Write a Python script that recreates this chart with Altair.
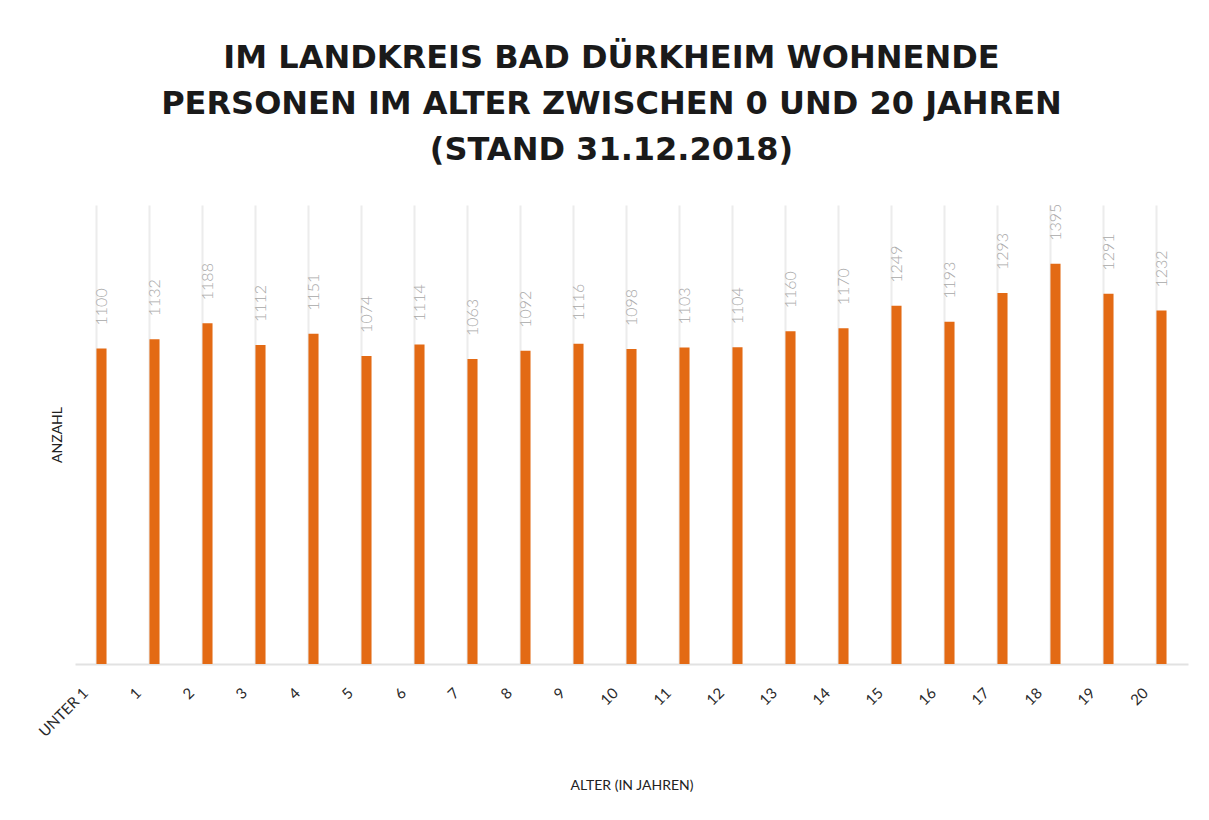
import altair as alt
import pandas as pd

ages = ["UNTER 1"] + [str(i) for i in range(1, 21)]
counts = [1100, 1132, 1188, 1112, 1151, 1074, 1114, 1063, 1092, 1116, 1098,
          1103, 1104, 1160, 1170, 1249, 1193, 1293, 1395, 1291, 1232]
title_lines = ["IM LANDKREIS BAD DÜRKHEIM WOHNENDE",
               "PERSONEN IM ALTER ZWISCHEN 0 UND 20 JAHREN",
               "(STAND 31.12.2018)"]

df = pd.DataFrame({"alter": ages, "anzahl": counts})

x = alt.X("alter:N", sort=ages, scale=alt.Scale(paddingInner=0.81, paddingOuter=0.405),
          axis=alt.Axis(title="ALTER (IN JAHREN)", labelAngle=-45, labelAlign="right",
                        labelBaseline="middle", labelPadding=26, labelOffset=-16,
                        labelFontSize=15, labelColor="#2a2a2a", labelFont="Lato",
                        ticks=False, domain=True, domainColor="#e2e2e2", domainWidth=2,
                        grid=True, gridColor="#ececec", gridWidth=2, bandPosition=0,
                        titleFont="Lato", titleFontSize=14, titleFontWeight="normal",
                        titleColor="#222222", titleY=121, titleBaseline="middle"))
y = alt.Y("anzahl:Q", scale=alt.Scale(domain=[0, 1600], nice=False),
          axis=alt.Axis(title="ANZAHL", labels=False, ticks=False, domain=False, grid=False,
                        titleFont="Lato", titleFontSize=14, titleFontWeight="normal",
                        titleColor="#222222", titleX=-18, titleBaseline="middle"))

bars = alt.Chart(df).mark_bar(color="#E36A14").encode(x=x, y=y)
labels = alt.Chart(df).mark_text(angle=270, align="left", baseline="middle", dx=23,
                                 font="Lato", fontSize=16, fontWeight=300,
                                 color="#a8a8a8").encode(
    x=alt.X("alter:N", sort=ages), y="anzahl:Q", text="anzahl:Q")

chart = alt.layer(bars, labels).properties(
    width=1113, height=459,
    autosize=alt.AutoSizeParams(type="none"),
    padding={"left": 67, "top": 197, "right": 13, "bottom": 148},
    title=alt.TitleParams(text=title_lines, font="DejaVu Sans", fontSize=32, fontWeight="bold",
                          color="#1a1a1a", lineHeight=46, anchor="middle", dx=-20,
                          offset=5, baseline="bottom"),
).configure_view(stroke=None)

chart.save("out.html", embed_options={"renderer": "svg", "actions": False})
